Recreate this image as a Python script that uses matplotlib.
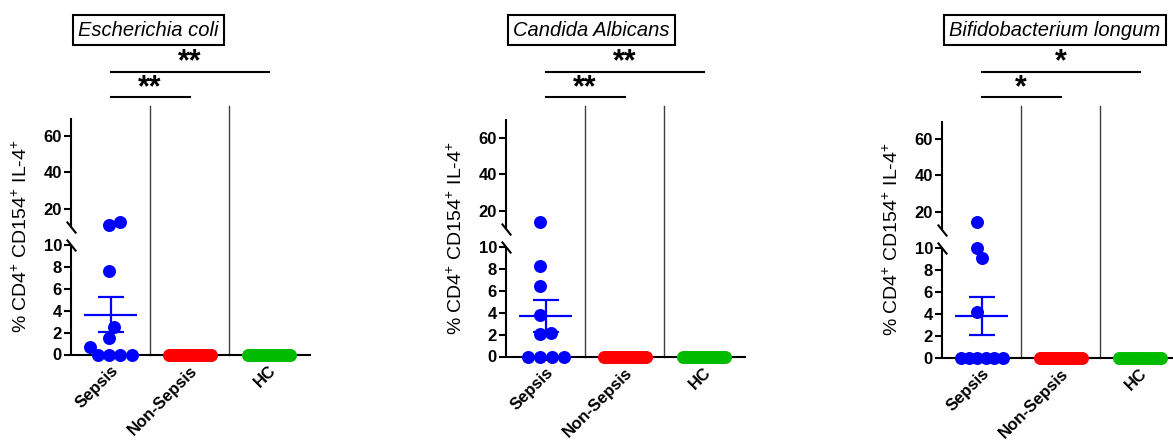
import numpy as np
import matplotlib.pyplot as plt
from matplotlib import transforms
from matplotlib.lines import Line2D
from matplotlib.ticker import FixedLocator

plt.rcParams['font.family'] = ['Liberation Sans', 'DejaVu Sans']
plt.rcParams['mathtext.fontset'] = 'custom'
plt.rcParams['mathtext.rm'] = 'Liberation Sans'
plt.rcParams['mathtext.default'] = 'regular'

# ---- data -------------------------------------------------------------
groups = ['Sepsis', 'Non-Sepsis', 'HC']
group_colors = ['#0000FF', '#FF0000', '#00BB00']
titles = ['Escherichia coli', 'Candida Albicans', 'Bifidobacterium longum']
ylabel = '% CD4$^{+}$ CD154$^{+}$ IL-4$^{+}$'
yticks = [0, 2, 4, 6, 8, 10, 20, 40, 60]

ecoli_sepsis = [0, 0, 0, 0, 1.5, 0.7, 2.5, 7.7, 11.4, 12.7]
candida_sepsis = [0, 0, 0, 0, 2.1, 2.2, 3.85, 6.5, 8.3, 14.1]
bifido_sepsis = [0, 0, 0, 0, 0, 0, 4.2, 10.0, 9.1, 14.5]
nonsepsis_all = [0] * 15
hc_all = [0] * 15

ecoli_stars = ['**', '**']      # Sepsis vs Non-Sepsis, Sepsis vs HC
candida_stars = ['**', '**']
bifido_stars = ['*', '*']

panels = [
    (titles[0], [ecoli_sepsis, nonsepsis_all, hc_all], ecoli_stars),
    (titles[1], [candida_sepsis, nonsepsis_all, hc_all], candida_stars),
    (titles[2], [bifido_sepsis, nonsepsis_all, hc_all], bifido_stars),
]

# ---- broken y scale: 0-10 linear, then a gap, then 10-70 compressed ----
BRK, GAP, RATIO, YMAX = 10.0, 1.66, 0.168, 70


def fwd(v):
    v = np.asarray(v, dtype=float)
    return np.where(v <= BRK, v, BRK + GAP + (v - BRK) * RATIO)


def inv(t):
    t = np.asarray(t, dtype=float)
    up = BRK + (t - BRK - GAP) / RATIO
    return np.where(t <= BRK, t, np.where(t < BRK + GAP, BRK, up))


# ---- layout (pixels) --------------------------------------------------
W, H, DPI = 1173, 447, 100
PANEL_LEFT = [71, 506, 942]
PANEL_BOTTOM = [354.5, 356.5, 357.5]   # measured from the top edge
PANEL_W, PANEL_H = 239, 237
XLIM = (-0.5, 2.525)
SEP_TOP, LOW_BAR, HIGH_BAR, TITLE_Y = 106, 97, 71.5, 30
DOT_D = 13          # dot diameter in px
SWARM_HALF = 21     # max horizontal spread of a column in px


def fy(px):
    return 1 - px / H


def swarm(vals, px_per_t, diam=DOT_D - 1, half=SWARM_HALF):
    """Simple beeswarm: place each dot as close to the centre as it can go."""
    ys = fwd(vals) * px_per_t
    placed = []
    for y in ys:
        cands = [0.0]
        for px, py in placed:
            dy = abs(y - py)
            if dy < diam:
                dx = np.sqrt(diam ** 2 - dy ** 2)
                cands += [px + dx, px - dx]
        cands.sort(key=lambda c: (abs(c), -c))
        for c in cands:
            if all((c - px) ** 2 + (y - py) ** 2 >= diam ** 2 - 1e-6
                   for px, py in placed):
                break
        placed.append((c, y))
    xs = np.array([p[0] for p in placed])
    xs -= (xs.max() + xs.min()) / 2
    m = np.abs(xs).max()
    if m > half:
        xs *= half / m
    return xs


fig = plt.figure(figsize=(W / DPI, H / DPI), dpi=DPI)

px_per_x = PANEL_W / (XLIM[1] - XLIM[0])
px_per_t = PANEL_H / (float(fwd(YMAX)) - float(fwd(0)))

for k, (title, cols, stars) in enumerate(panels):
    ax = fig.add_axes([PANEL_LEFT[k] / W, fy(PANEL_BOTTOM[k]),
                       PANEL_W / W, PANEL_H / H])
    ax.set_yscale('function', functions=(fwd, inv))
    ax.set_ylim(0, YMAX)
    ax.set_xlim(*XLIM)

    for i, (vals, col) in enumerate(zip(cols, group_colors)):
        vals = np.asarray(vals, dtype=float)
        xo = swarm(vals, px_per_t) / px_per_x
        ax.plot(i + xo, vals, 'o', ms=DOT_D * 72 / DPI, color=col,
                mec='none', clip_on=False, zorder=3)
        mean = vals.mean()
        sem = vals.std(ddof=1) / np.sqrt(len(vals))
        ax.hlines(mean, i - 0.33, i + 0.33, color=col, lw=1.6, zorder=4)
        ax.errorbar(i, mean, yerr=sem, fmt='none', ecolor=col,
                    elinewidth=1.6, capsize=9.4, capthick=1.6, zorder=4)

    # y axis drawn in two pieces with break marks
    upper_start = BRK + 1e-6
    for seg in ([0, BRK], [upper_start, YMAX]):
        ax.plot([XLIM[0]] * 2, seg, color='black', lw=1.5,
                solid_capstyle='butt', clip_on=False, zorder=5)
    ax.plot([XLIM[0]] * 2, [BRK, upper_start], ls='none',
            marker=[(-0.8, 1), (0.8, -1)], ms=8.5, mew=1.5, mec='black',
            clip_on=False, zorder=5)

    for s in ('left', 'top', 'right'):
        ax.spines[s].set_visible(False)
    ax.spines['bottom'].set_linewidth(1.5)

    ax.yaxis.set_major_locator(FixedLocator(yticks))
    ax.set_yticks(yticks, [str(t) for t in yticks], fontweight='bold')
    ax.tick_params(axis='y', length=5, width=1.5, pad=1.5, labelsize=12)
    ax.set_xticks(range(len(groups)), groups, rotation=45, ha='right',
                  rotation_mode='anchor', fontweight='bold')
    ax.tick_params(axis='x', length=3, width=1.5, pad=3, labelsize=12)
    ax.set_ylabel(ylabel, fontsize=14)
    ax.yaxis.set_label_coords(-40 / PANEL_W, 0.5)

    bt = transforms.blended_transform_factory(ax.transData, fig.transFigure)
    y0 = fy(PANEL_BOTTOM[k])

    # column separators
    for xs in (0.5, 1.5):
        ax.add_line(Line2D([xs, xs], [y0, fy(SEP_TOP)], transform=bt,
                           color='#404040', lw=1.0, clip_on=False))

    # significance brackets
    for (x_end, bar_px, s) in ((1, LOW_BAR, stars[0]), (2, HIGH_BAR, stars[1])):
        ax.add_line(Line2D([0, x_end], [fy(bar_px)] * 2, transform=bt,
                           color='black', lw=1.5, clip_on=False))
        ax.text(x_end / 2, fy(bar_px - 1), s, transform=bt, ha='center',
                va='baseline', fontsize=22, fontweight='bold')

    ax.text(XLIM[0] + 7 / px_per_x, fy(TITLE_Y), title, transform=bt,
            ha='left', va='center', fontsize=14.5, fontstyle='italic',
            bbox=dict(boxstyle='square,pad=0.27', fc='white', ec='black',
                      lw=1.5))

fig.savefig('out.png', dpi=DPI)
